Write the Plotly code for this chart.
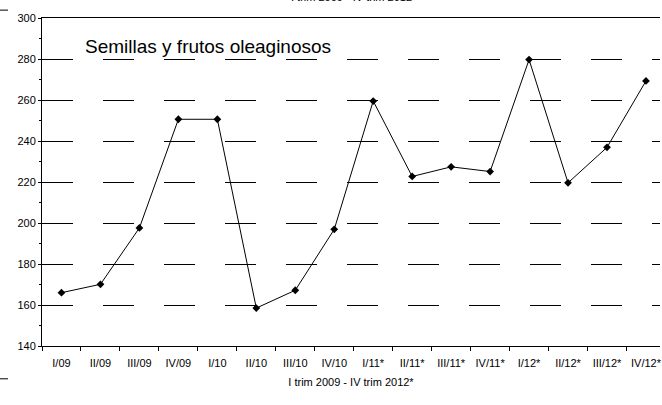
import plotly.graph_objects as go

# trimestres
periodos = ['I/09', 'II/09', 'III/09', 'IV/09', 'I/10', 'II/10', 'III/10', 'IV/10',
            'I/11*', 'II/11*', 'III/11*', 'IV/11*', 'I/12*', 'II/12*', 'III/12*', 'IV/12*']
# valores
valores = [166.0, 170.1, 197.6, 250.6, 250.6, 158.5, 167.2, 196.9,
           259.5, 222.7, 227.4, 225.1, 279.7, 219.6, 236.9, 269.3]

serie_nombre = 'Semillas y frutos oleaginosos'
titulo_x = 'I trim 2009 - IV trim 2012*'
titulo_sup = 'I trim 2009 - IV trim 2012'

fuente = 'Liberation Sans, Arial, sans-serif'

fig = go.Figure()
fig.add_trace(go.Scatter(
    x=periodos, y=valores, mode='lines+markers',
    line=dict(color='black', width=1),
    marker=dict(symbol='diamond', size=6, color='black'),
    showlegend=False, cliponaxis=False
))

fig.update_layout(
    width=662, height=405,
    margin=dict(l=42, r=0, t=18, b=59),
    plot_bgcolor='white', paper_bgcolor='white',
    font=dict(family=fuente, size=11, color='black'),
    xaxis=dict(
        type='category', range=[-0.5, 15.36],
        tickson='boundaries', ticks='outside', ticklen=4, tickcolor='black',
        ticklabelstandoff=7,
        showline=True, linecolor='black', linewidth=1, mirror=True,
        showgrid=False, tickfont=dict(size=11),
        title=dict(text=titulo_x, font=dict(size=11), standoff=10),
    ),
    yaxis=dict(
        range=[140, 300], dtick=20, ticks='outside', ticklen=3, tickcolor='black',
        showline=True, linecolor='black', linewidth=1,
        showgrid=True, gridcolor='black', gridwidth=1, griddash='31px,30px',
        zeroline=False, tickfont=dict(size=11),
        minor=dict(dtick=10, ticks='outside', ticklen=2, tickcolor='black', showgrid=False),
    ),
    annotations=[
        dict(text=serie_nombre, xref='paper', yref='paper', x=0.066, y=0.912,
             xanchor='left', yanchor='middle', showarrow=False,
             font=dict(size=19, family=fuente)),
        dict(text=titulo_sup, xref='paper', yref='paper', x=0.5, y=1,
             xanchor='center', yanchor='middle', yshift=21, showarrow=False,
             font=dict(size=11, family=fuente)),
    ],
    shapes=[
        dict(type='line', xref='paper', yref='paper', x0=-0.068, x1=-0.055,
             y0=1.024, y1=1.024, line=dict(color='black', width=1)),
        dict(type='line', xref='paper', yref='paper', x0=-0.068, x1=-0.055,
             y0=-0.1, y1=-0.1, line=dict(color='black', width=1)),
    ],
)

# sin margen del body, para que la figura empiece en 0,0
fig.write_html('out.html', config={'displayModeBar': False},
               post_script="document.body.style.margin='0';")
